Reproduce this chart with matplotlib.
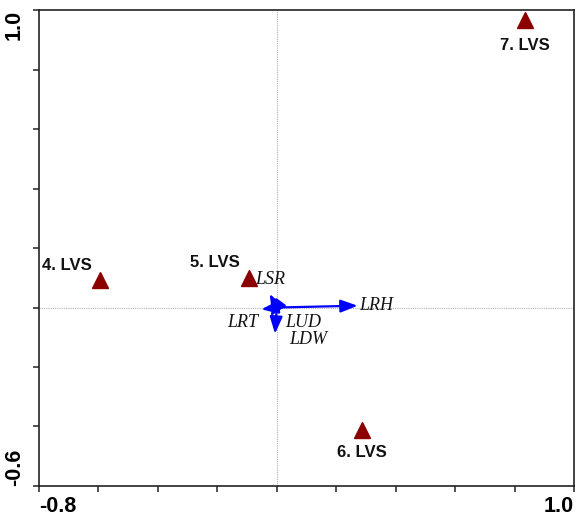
import matplotlib
matplotlib.use("Agg")
import matplotlib.pyplot as plt
import numpy as np

# Sample scores (triangles)
site_labels = ["4. LVS", "5. LVS", "6. LVS", "7. LVS"]
site_x = [-0.595, -0.093, 0.287, 0.835]
site_y = [0.092, 0.100, -0.412, 0.966]

# Variable loadings (arrows from the origin)
var_names = ["LRH", "LSR", "LRT", "LUD", "LDW"]
var_x = [0.272, -0.024, -0.052, -0.006, -0.022]
var_y = [0.006, 0.046, -0.006, -0.088, -0.030]

x_range = (-0.8, 1.0)
y_range = (-0.6, 1.0)

fig = plt.figure(figsize=(5.77, 5.19), dpi=100)
ax = fig.add_axes([0.0676, 0.0636, 0.9272, 0.9171])
ax.set_xlim(*x_range)
ax.set_ylim(*y_range)

# Dotted reference lines through the origin
ax.axhline(0, color="#b0b0b0", lw=0.8, ls=(0, (1, 1)), zorder=1)
ax.axvline(0, color="#b0b0b0", lw=0.8, ls=(0, (1, 1)), zorder=1)

# Arrows
for vx, vy in zip(var_x, var_y):
    ax.annotate("", xy=(vx, vy), xytext=(0, 0),
                arrowprops=dict(arrowstyle="-|>,head_length=0.85,head_width=0.32",
                                mutation_scale=12, color="#0000ff", lw=1.6,
                                shrinkA=0, shrinkB=0),
                zorder=3)

# Arrow labels (italic serif)
lab_font = dict(family="Liberation Serif", style="italic", fontsize=13, color="#111111")
lab_pos = {
    "LRH": (0.277, 0.008),
    "LSR": (-0.073, 0.095),
    "LRT": (-0.167, -0.052),
    "LUD": (0.030, -0.052),
    "LDW": (0.043, -0.106),
}
for name in var_names:
    x, y = lab_pos[name]
    ax.text(x, y, name, ha="left", va="center", **lab_font)

# Sample triangles
ax.plot(site_x, site_y, ls="none", marker="^", ms=11, color="#8b0000",
        markeredgecolor="#8b0000", zorder=4)

site_offsets = [(-0.195, 0.050), (-0.200, 0.052), (-0.085, -0.076), (-0.085, -0.085)]
for lab, x, y, (dx, dy) in zip(site_labels, site_x, site_y, site_offsets):
    ax.text(x + dx, y + dy, lab, ha="left", va="center", fontsize=12,
            fontweight="bold", family="Liberation Sans", color="#111111")

# Axes styling
for s in ax.spines.values():
    s.set_linewidth(1.2)
    s.set_color("#222222")

xt = np.linspace(x_range[0], x_range[1], 10)
yt = np.linspace(y_range[0], y_range[1], 9)
ax.set_xticks(xt)
ax.set_yticks(yt)
ax.set_xticklabels(["-0.8"] + [""] * 8 + ["1.0"])
ax.set_yticklabels(["-0.6"] + [""] * 7 + ["1.0"])
ax.tick_params(direction="out", length=4, width=1.1, color="#222222")
ax.tick_params(axis="x", pad=3)
ax.tick_params(axis="y", pad=6)

for t in ax.get_xticklabels():
    t.set_fontsize(15.5)
    t.set_fontweight("bold")
    t.set_family("Liberation Sans")
xl = ax.get_xticklabels()
xl[0].set_ha("left")
xl[-1].set_ha("right")

for t in ax.get_yticklabels():
    t.set_fontsize(15.5)
    t.set_fontweight("bold")
    t.set_family("Liberation Sans")
    t.set_rotation(90)
    t.set_rotation_mode("anchor")
yl = ax.get_yticklabels()
yl[0].set_ha("left")
yl[0].set_va("bottom")
yl[-1].set_ha("right")
yl[-1].set_va("bottom")

fig.savefig("out.png", dpi=100)
